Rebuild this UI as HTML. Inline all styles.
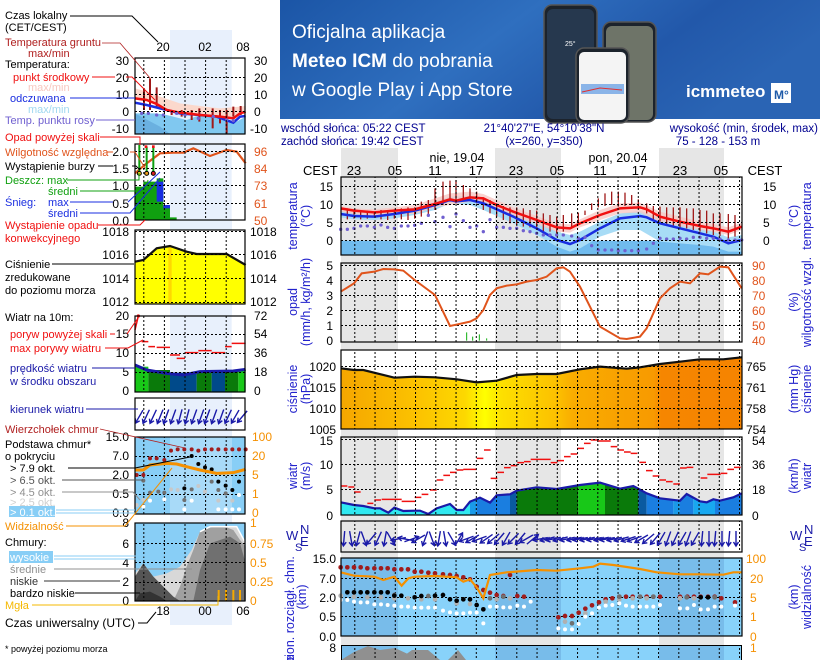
<!DOCTYPE html>
<html><head><meta charset="utf-8"><style>
html,body{margin:0;padding:0;background:#fff;}
svg{display:block;font-family:"Liberation Sans",sans-serif;}
</style></head><body>
<svg width="820" height="660" viewBox="0 0 820 660" xmlns="http://www.w3.org/2000/svg">
<defs>
<linearGradient id="bn" x1="0" y1="0" x2="1" y2="0.3"><stop offset="0" stop-color="#1b55a6"/><stop offset="0.45" stop-color="#2f6fbf"/><stop offset="0.75" stop-color="#2258aa"/><stop offset="1" stop-color="#2a64b4"/></linearGradient>
<linearGradient id="pg" x1="0" y1="0" x2="1" y2="0"><stop offset="0" stop-color="#f5a600"/><stop offset="0.2" stop-color="#fcc400"/><stop offset="0.31" stop-color="#fdd800"/><stop offset="0.36" stop-color="#ffff00"/><stop offset="0.4" stop-color="#fde000"/><stop offset="0.54" stop-color="#fcc000"/><stop offset="0.58" stop-color="#f9ac00"/><stop offset="0.78" stop-color="#f89a00"/><stop offset="0.8" stop-color="#f68600"/><stop offset="1" stop-color="#f68400"/></linearGradient>
<pattern id="vg" x="354.3" y="0" width="20.25" height="4" patternUnits="userSpaceOnUse"><rect x="0" y="0" width="1" height="2" fill="#000"/></pattern>
<pattern id="vgl" x="143.3" y="0" width="20.6" height="4" patternUnits="userSpaceOnUse"><rect x="0" y="0" width="1" height="2" fill="#000"/></pattern>
<g id="ar"><path d="M0,-8 L0,7 M-2.5,3 L0,7 L2.5,3" stroke="#1a1aa8" stroke-width="1.4" fill="none"/></g>
</defs>

<!-- banner -->
<rect x="280" y="0" width="540" height="119" fill="url(#bn)"/>
<text x="292" y="38" font-size="19" fill="#fff">Oficjalna aplikacja</text>
<text x="292" y="67" font-size="19" fill="#fff"><tspan font-weight="bold">Meteo ICM</tspan> do pobrania</text>
<text x="292" y="96" font-size="19" fill="#fff">w Google Play i App Store</text>
<rect x="544" y="5" width="53" height="118" rx="8" fill="#1c232c" stroke="#555" stroke-width="1.5"/>
<rect x="547" y="9" width="47" height="110" rx="6" fill="#26384e"/>
<text x="565" y="46" font-size="7" fill="#fff">25°</text>
<rect x="603" y="22" width="53" height="100" rx="8" fill="#1c232c" stroke="#555" stroke-width="1.5"/>
<rect x="606" y="26" width="47" height="94" rx="6" fill="#6e7468"/>
<rect x="576" y="48" width="53" height="75" rx="8" fill="#1c232c" stroke="#555" stroke-width="1.5"/>
<rect x="579" y="52" width="47" height="68" rx="5" fill="#f4f4f4"/>
<rect x="581" y="84" width="43" height="10" fill="#8ab4e8"/>
<path d="M582 92 L600 88 L622 90" stroke="#e03030" fill="none"/>
<text x="686" y="97" font-size="17" font-weight="bold" fill="#fff">icmmeteo</text>
<rect x="771" y="83" width="20" height="20" fill="#fff"/>
<text x="774" y="99" font-size="12" font-weight="bold" fill="#1e5aa8">M°</text>

<!-- header text -->
<g font-size="11.5" fill="#000090">
<text x="281" y="132">wschód słońca: 05:22 CEST</text>
<text x="281" y="145">zachód słońca: 19:42 CEST</text>
<text x="544" y="132" text-anchor="middle">21°40'27"E, 54°10'38"N</text>
<text x="544" y="145" text-anchor="middle">(x=260,  y=350)</text>
<text x="818" y="132" text-anchor="end">wysokość (min, środek, max)</text>
<text x="718" y="145" text-anchor="middle">75 - 128 - 153 m</text>
</g>

<!-- night bands -->
<g fill="#e6e6e6">
<rect x="341" y="148" width="57" height="512"/>
<rect x="495" y="148" width="66" height="512"/>
<rect x="659" y="148" width="65" height="512"/>
</g>

<g font-size="13" fill="#000">
<text x="457" y="162" text-anchor="middle" font-size="12.5">nie, 19.04</text>
<text x="618" y="162" text-anchor="middle" font-size="12.5">pon, 20.04</text>
<text x="303" y="175">CEST</text>
<text x="354" y="175" text-anchor="middle">23</text>
<text x="395" y="175" text-anchor="middle">05</text>
<text x="435" y="175" text-anchor="middle">11</text>
<text x="476" y="175" text-anchor="middle">17</text>
<text x="516" y="175" text-anchor="middle">23</text>
<text x="557" y="175" text-anchor="middle">05</text>
<text x="600" y="175" text-anchor="middle">11</text>
<text x="639" y="175" text-anchor="middle">17</text>
<text x="680" y="175" text-anchor="middle">23</text>
<text x="721" y="175" text-anchor="middle">05</text>
<text x="765" y="175" text-anchor="middle">CEST</text>
</g>

<!-- ============ TEMPERATURE PANEL ============ -->
<rect x="341" y="177" width="401" height="78" fill="#fff"/>
<rect x="341" y="177" width="57" height="78" fill="#e6e6e6"/>
<rect x="495" y="177" width="66" height="78" fill="#e6e6e6"/>
<rect x="659" y="177" width="65" height="78" fill="#e6e6e6"/>
<g transform="translate(280,120) scale(0.33333)">
<rect x="182" y="362" width="1203" height="43" fill="#70bbee"/>
<path d="M182,272 L222,280 L283,282 L343,272 L404,262 L465,245 L510,230 L570,228 L610,238 L700,275 L770,305 L830,335 L870,345 L900,335 L960,305 L1020,280 L1080,272 L1140,295 L1200,310 L1260,325 L1300,335 L1345,352 L1385,345 L1385,395 L1345,395 L1300,380 L1260,375 L1200,370 L1140,365 L1080,330 L1020,330 L960,350 L900,385 L870,395 L830,380 L770,345 L700,310 L610,270 L570,255 L510,250 L465,270 L404,285 L343,295 L283,300 L222,298 L182,292 Z" fill="#a8dcf6"/>
<path d="M182,258 L222,265 L283,268 L343,262 L404,255 L465,235 L510,220 L570,215 L610,222 L650,240 L700,262 L770,288 L830,310 L870,313 L900,298 L960,270 L1020,250 L1080,248 L1140,275 L1200,290 L1260,305 L1300,312 L1345,322 L1385,308 L1385,330 L1345,345 L1300,335 L1260,330 L1200,318 L1140,305 L1080,278 L1020,280 L960,300 L900,322 L870,338 L830,335 L770,312 L700,288 L650,270 L610,248 L570,245 L510,255 L465,262 L404,282 L343,282 L283,288 L222,282 L182,275 Z" fill="#f8c8c4" opacity="0.8"/>
<g stroke="#a01818" stroke-width="1.3" vector-effect="non-scaling-stroke">
<path vector-effect="non-scaling-stroke" d="M202,265V298 M222,268V296 M242,272V298 M262,272V296 M283,275V292 M303,270V298 M323,272V300 M343,268V296 M364,265V298 M384,262V300 M404,262V296 M424,245V290 M445,240V285 M465,205V270 M489,185V255 M510,182V245 M528,180V250 M550,195V240 M570,205V240 M590,215V250 M610,232V270 M630,240V280 M650,250V290 M670,258V300 M690,262V310 M710,262V315 M730,265V320 M750,270V322 M770,272V330 M790,280V335 M810,285V335 M830,290V340 M850,285V335 M875,280V325 M895,278V310 M915,272V285 M935,250V270 M955,235V262 M975,220V258 M995,215V255 M1015,215V260 M1035,218V258 M1055,225V255 M1075,238V262 M1100,250V280 M1120,258V300 M1140,260V305 M1160,262V315 M1180,262V318 M1200,262V325 M1220,265V325 M1240,265V330 M1260,270V335 M1280,272V340 M1300,280V345 M1320,280V348 M1345,282V355 M1365,285V350"/>
</g>
<polyline points="182,282 222,288 283,290 343,282 404,272 465,255 510,240 528,244 570,240 610,250 700,290 770,325 830,360 870,372 900,360 960,325 1020,295 1080,288 1100,292 1140,310 1200,325 1260,340 1300,350 1345,370 1385,360" fill="none" stroke="#1a2ee0" stroke-width="2.5" vector-effect="non-scaling-stroke"/>
<polyline points="182,265 222,272 283,277 343,272 404,268 465,252 510,238 528,242 570,232 610,235 650,255 700,275 770,300 830,322 870,325 900,310 960,285 1020,265 1080,262 1100,268 1140,290 1200,305 1260,318 1300,325 1345,335 1385,320" fill="none" stroke="#f01010" stroke-width="2.5" vector-effect="non-scaling-stroke"/>
<g fill="#7060d0">
<circle cx="182" cy="328" r="5"/><circle cx="202" cy="328" r="5"/><circle cx="222" cy="325" r="5"/><circle cx="242" cy="318" r="5"/><circle cx="262" cy="318" r="5"/><circle cx="283" cy="322" r="5"/><circle cx="303" cy="315" r="5"/><circle cx="323" cy="322" r="5"/><circle cx="343" cy="325" r="5"/><circle cx="364" cy="318" r="5"/><circle cx="384" cy="318" r="5"/><circle cx="404" cy="316" r="5"/><circle cx="424" cy="310" r="5"/><circle cx="445" cy="286" r="5"/><circle cx="465" cy="305" r="5"/><circle cx="489" cy="292" r="5"/><circle cx="510" cy="320" r="5"/><circle cx="528" cy="282" r="5"/><circle cx="550" cy="302" r="5"/><circle cx="570" cy="322" r="5"/><circle cx="590" cy="318" r="5"/><circle cx="610" cy="335" r="5"/><circle cx="630" cy="299" r="5"/><circle cx="650" cy="322" r="5"/><circle cx="670" cy="322" r="5"/><circle cx="690" cy="325" r="5"/><circle cx="710" cy="325" r="5"/><circle cx="730" cy="332" r="5"/><circle cx="750" cy="335" r="5"/><circle cx="770" cy="340" r="5"/><circle cx="790" cy="345" r="5"/><circle cx="810" cy="345" r="5"/><circle cx="830" cy="345" r="5"/><circle cx="850" cy="345" r="5"/><circle cx="875" cy="348" r="5"/><circle cx="895" cy="355" r="5"/><circle cx="915" cy="352" r="5"/><circle cx="935" cy="377" r="5"/><circle cx="955" cy="390" r="5"/><circle cx="975" cy="390" r="5"/><circle cx="995" cy="390" r="5"/><circle cx="1015" cy="392" r="5"/><circle cx="1035" cy="392" r="5"/><circle cx="1055" cy="392" r="5"/><circle cx="1075" cy="392" r="5"/><circle cx="1100" cy="387" r="5"/><circle cx="1120" cy="370" r="5"/><circle cx="1140" cy="355" r="5"/><circle cx="1160" cy="357" r="5"/><circle cx="1180" cy="357" r="5"/><circle cx="1200" cy="355" r="5"/><circle cx="1220" cy="357" r="5"/><circle cx="1240" cy="352" r="5"/><circle cx="1260" cy="352" r="5"/><circle cx="1280" cy="355" r="5"/><circle cx="1300" cy="355" r="5"/><circle cx="1320" cy="357" r="5"/><circle cx="1345" cy="360" r="5"/><circle cx="1365" cy="360" r="5"/><circle cx="1385" cy="360" r="5"/>
</g>
</g>
<rect x="342" y="177" width="399" height="78" fill="url(#vg)"/>
<path d="M341 186.5H742M341 204.5H742M341 222.5H742M341 240.5H742" stroke="#000" stroke-dasharray="2,2"/>
<rect x="341" y="177" width="401" height="78" fill="none" stroke="#000" stroke-width="1.2"/>
<g font-size="12" fill="#000">
<text x="333" y="191" text-anchor="end">15</text><text x="333" y="209" text-anchor="end">10</text><text x="333" y="227" text-anchor="end">5</text><text x="333" y="245" text-anchor="end">0</text>
<text x="763" y="191">15</text><text x="763" y="209">10</text><text x="763" y="227">5</text><text x="763" y="245">0</text>
</g>

<!-- ============ PRECIP PANEL ============ -->
<rect x="341" y="263" width="401" height="79" fill="#fff"/>
<rect x="341" y="263" width="57" height="79" fill="#e6e6e6"/>
<rect x="495" y="263" width="66" height="79" fill="#e6e6e6"/>
<rect x="659" y="263" width="65" height="79" fill="#e6e6e6"/>
<rect x="342" y="263" width="399" height="79" fill="url(#vg)"/>
<path d="M341 265.5H742M341 280.5H742M341 295.5H742M341 310.5H742M341 325.5H742" stroke="#000" stroke-dasharray="2,2"/>
<g transform="translate(280,120) scale(0.33333)">
<path d="M560,662V637 M578,662V650 M598,662V643 M620,662V655" stroke="#10b010" stroke-width="1" vector-effect="non-scaling-stroke"/>
<polyline points="182,515 222,490 245,460 283,455 310,447 343,448 370,452 404,480 465,525 510,618 528,614 570,605 590,595 610,570 630,525 650,505 680,497 710,493 740,485 770,480 800,470 830,445 850,442 870,455 900,500 960,620 1020,655 1040,657 1080,650 1100,625 1140,535 1170,505 1200,485 1230,490 1260,460 1285,463 1320,440 1345,442 1385,505" fill="none" stroke="#e0541c" stroke-width="2" vector-effect="non-scaling-stroke"/>
</g>
<rect x="341" y="263" width="401" height="79" fill="none" stroke="#000" stroke-width="1.2"/>
<g font-size="12" fill="#000">
<text x="333" y="270" text-anchor="end">5</text><text x="333" y="285" text-anchor="end">4</text><text x="333" y="300" text-anchor="end">3</text><text x="333" y="315" text-anchor="end">2</text><text x="333" y="330" text-anchor="end">1</text><text x="333" y="345" text-anchor="end">0</text>
</g>
<g font-size="12" fill="#e0541c">
<text x="752" y="270">90</text><text x="752" y="285">80</text><text x="752" y="300">70</text><text x="752" y="315">60</text><text x="752" y="330">50</text><text x="752" y="345">40</text>
</g>

<!-- ============ PRESSURE PANEL ============ -->
<g transform="translate(280,340) scale(0.33333)">
<rect x="182" y="30" width="1203" height="238" fill="#fff"/>
<path d="M182,85 L222,90 L250,90 L343,113 L404,110 L465,112 L530,118 L590,127 L650,122 L710,105 L770,102 L830,102 L900,88 L960,80 L1040,86 L1080,82 L1140,72 L1200,65 L1260,58 L1330,58 L1385,52 L1385,268 L182,268 Z" fill="url(#pg)"/>
<polyline points="182,85 222,90 250,90 343,113 404,110 465,112 530,118 590,127 650,122 710,105 770,102 830,102 900,88 960,80 1040,86 1080,82 1140,72 1200,65 1260,58 1330,58 1385,52" fill="none" stroke="#111" stroke-width="2.2" vector-effect="non-scaling-stroke"/>
</g>
<rect x="342" y="350" width="399" height="79" fill="url(#vg)"/>
<path d="M341 366.5H742M341 387.5H742M341 408.5H742" stroke="#000" stroke-dasharray="2,2"/>
<rect x="341" y="350" width="401" height="79" fill="none" stroke="#000" stroke-width="1.2"/>
<g font-size="12" fill="#000">
<text x="336" y="371" text-anchor="end">1020</text><text x="336" y="392" text-anchor="end">1015</text><text x="336" y="413" text-anchor="end">1010</text><text x="336" y="434" text-anchor="end">1005</text>
<text x="746" y="371">765</text><text x="746" y="392">761</text><text x="746" y="413">758</text><text x="746" y="434">754</text>
</g>

<!-- ============ WIND PANEL ============ -->
<rect x="341" y="437" width="401" height="78" fill="#fff"/>
<rect x="341" y="437" width="57" height="78" fill="#e6e6e6"/>
<rect x="495" y="437" width="66" height="78" fill="#e6e6e6"/>
<rect x="659" y="437" width="65" height="78" fill="#e6e6e6"/>
<g transform="translate(280,340) scale(0.33333)">
<clipPath id="wc"><path d="M182,487 L222,495 L250,498 L283,505 L300,505 L325,518 L343,503 L370,513 L404,512 L420,512 L445,522 L470,505 L510,492 L530,510 L550,510 L570,485 L600,473 L630,488 L650,466 L690,463 L710,452 L770,442 L830,447 L900,435 L960,428 L1020,446 L1060,438 L1100,460 L1140,475 L1200,482 L1220,462 L1260,484 L1280,487 L1300,478 L1320,482 L1360,472 L1385,460 L1385,525 L182,525 Z"/></clipPath>
<g clip-path="url(#wc)">
<rect x="182" y="420" width="390" height="105" fill="#30e8f0"/>
<rect x="570" y="420" width="20" height="105" fill="#1a9ae8"/>
<rect x="590" y="420" width="100" height="105" fill="#1a7ee0"/>
<rect x="690" y="420" width="20" height="105" fill="#0a5aa0"/>
<rect x="710" y="420" width="185" height="105" fill="#0a7a0a"/>
<rect x="895" y="420" width="80" height="105" fill="#18c818"/>
<rect x="975" y="420" width="100" height="105" fill="#0a7a0a"/>
<rect x="1075" y="420" width="25" height="105" fill="#0a5aa0"/>
<rect x="1100" y="420" width="80" height="105" fill="#1a7ee0"/>
<rect x="1180" y="420" width="20" height="105" fill="#1a9ae8"/>
<rect x="1200" y="420" width="40" height="105" fill="#1a7ee0"/>
<rect x="1240" y="420" width="65" height="105" fill="#18a8f0"/>
<rect x="1305" y="420" width="80" height="105" fill="#1a7ee0"/>
</g>
<polyline points="182,487 222,495 250,498 283,505 300,505 325,518 343,503 370,513 404,512 420,512 445,522 470,505 510,492 530,510 550,510 570,485 600,473 630,488 650,466 690,463 710,452 770,442 830,447 900,435 960,428 1020,446 1060,438 1100,460 1140,475 1200,482 1220,462 1260,484 1280,487 1300,478 1320,482 1360,472 1385,460" fill="none" stroke="#1a1aa8" stroke-width="2.2" vector-effect="non-scaling-stroke"/>
<path vector-effect="non-scaling-stroke" stroke="#f01010" stroke-width="1.5" fill="none" d="M182,438h20 M205,441h18 M222,456h20 M262,490h18 M283,480h20 M305,478h20 M325,478h20 M345,478h20 M365,484h40 M404,472h20 M425,463h20 M450,450h20 M470,420h20 M490,406h20 M510,397h20 M530,390h20 M550,388h40 M590,355h20 M612,330h20 M632,415h20 M652,397h20 M672,383h20 M692,377h20 M712,368h20 M732,365h20 M752,358h40 M792,358h20 M812,368h20 M832,362h20 M852,350h20 M872,342h20 M892,325h20 M912,310h20 M932,300h20 M952,303h40 M992,320h20 M1012,330h20 M1032,336h20 M1052,340h20 M1078,367h20 M1098,392h20 M1118,408h20 M1138,420h20 M1158,425h20 M1180,432h20 M1200,384h20 M1220,382h20 M1262,414h20 M1282,403h40 M1322,400h20 M1342,388h20 M1362,382h20"/>
</g>
<rect x="342" y="437" width="399" height="78" fill="url(#vg)"/>
<path d="M341 439.5H742M341 464.5H742M341 489.5H742" stroke="#000" stroke-dasharray="2,2"/>
<rect x="341" y="437" width="401" height="78" fill="none" stroke="#000" stroke-width="1.2"/>
<g font-size="12" fill="#000">
<text x="333" y="445" text-anchor="end">15</text><text x="333" y="469" text-anchor="end">10</text><text x="333" y="494" text-anchor="end">5</text><text x="333" y="520" text-anchor="end">0</text>
<text x="752" y="445">54</text><text x="752" y="469">36</text><text x="752" y="494">18</text><text x="752" y="520">0</text>
</g>

<!-- ============ DIRECTION PANEL ============ -->
<rect x="341" y="521" width="401" height="31" fill="#fff"/>
<rect x="341" y="521" width="57" height="31" fill="#e6e6e6"/>
<rect x="495" y="521" width="66" height="31" fill="#e6e6e6"/>
<rect x="659" y="521" width="65" height="31" fill="#e6e6e6"/>
<rect x="342" y="521" width="399" height="31" fill="url(#vg)"/>
<g>
<use href="#ar" transform="translate(344,539) rotate(5)"/>
<use href="#ar" transform="translate(351,539) rotate(-10)"/>
<use href="#ar" transform="translate(358,539) rotate(15)"/>
<use href="#ar" transform="translate(364,539) rotate(-20)"/>
<use href="#ar" transform="translate(371,539) rotate(40)"/>
<use href="#ar" transform="translate(378,539) rotate(25)"/>
<use href="#ar" transform="translate(385,539) rotate(10)"/>
<use href="#ar" transform="translate(391,539) rotate(-30)"/>
<use href="#ar" transform="translate(398,539) rotate(80)"/>
<use href="#ar" transform="translate(405,539) rotate(100)"/>
<use href="#ar" transform="translate(412,539) rotate(-110)"/>
<use href="#ar" transform="translate(418,539) rotate(60)"/>
<use href="#ar" transform="translate(425,539) rotate(20)"/>
<use href="#ar" transform="translate(432,539) rotate(-20)"/>
<use href="#ar" transform="translate(439,539) rotate(10)"/>
<use href="#ar" transform="translate(445,539) rotate(-10)"/>
<use href="#ar" transform="translate(452,539) rotate(-30)"/>
<use href="#ar" transform="translate(459,539) rotate(-150)"/>
<use href="#ar" transform="translate(466,539) rotate(70)"/>
<use href="#ar" transform="translate(472,539) rotate(60)"/>
<use href="#ar" transform="translate(479,539) rotate(70)"/>
<use href="#ar" transform="translate(486,539) rotate(55)"/>
<use href="#ar" transform="translate(493,539) rotate(50)"/>
<use href="#ar" transform="translate(499,539) rotate(40)"/>
<use href="#ar" transform="translate(506,539) rotate(30)"/>
<use href="#ar" transform="translate(513,539) rotate(45)"/>
<use href="#ar" transform="translate(520,539) rotate(40)"/>
<use href="#ar" transform="translate(526,539) rotate(60)"/>
<use href="#ar" transform="translate(533,539) rotate(-130)"/>
<use href="#ar" transform="translate(540,539) rotate(80)"/>
<use href="#ar" transform="translate(547,539) rotate(75)"/>
<use href="#ar" transform="translate(553,539) rotate(78)"/>
<use href="#ar" transform="translate(560,539) rotate(75)"/>
<use href="#ar" transform="translate(567,539) rotate(78)"/>
<use href="#ar" transform="translate(574,539) rotate(78)"/>
<use href="#ar" transform="translate(580,539) rotate(80)"/>
<use href="#ar" transform="translate(587,539) rotate(78)"/>
<use href="#ar" transform="translate(594,539) rotate(80)"/>
<use href="#ar" transform="translate(601,539) rotate(78)"/>
<use href="#ar" transform="translate(607,539) rotate(80)"/>
<use href="#ar" transform="translate(614,539) rotate(78)"/>
<use href="#ar" transform="translate(621,539) rotate(75)"/>
<use href="#ar" transform="translate(628,539) rotate(72)"/>
<use href="#ar" transform="translate(634,539) rotate(70)"/>
<use href="#ar" transform="translate(641,539) rotate(60)"/>
<use href="#ar" transform="translate(648,539) rotate(50)"/>
<use href="#ar" transform="translate(655,539) rotate(40)"/>
<use href="#ar" transform="translate(661,539) rotate(30)"/>
<use href="#ar" transform="translate(668,539) rotate(20)"/>
<use href="#ar" transform="translate(675,539) rotate(25)"/>
<use href="#ar" transform="translate(682,539) rotate(30)"/>
<use href="#ar" transform="translate(688,539) rotate(20)"/>
<use href="#ar" transform="translate(695,539) rotate(30)"/>
<use href="#ar" transform="translate(702,539) rotate(5)"/>
<use href="#ar" transform="translate(709,539) rotate(0)"/>
<use href="#ar" transform="translate(715,539) rotate(5)"/>
<use href="#ar" transform="translate(722,539) rotate(0)"/>
<use href="#ar" transform="translate(729,539) rotate(5)"/>
<use href="#ar" transform="translate(736,539) rotate(0)"/>
</g>
<rect x="341" y="521" width="401" height="31" fill="none" stroke="#000" stroke-width="1.2"/>
<g fill="#1a1aa8" font-size="13">
<text x="286" y="540">W</text><text x="300" y="534">N</text><text x="300" y="546">E</text><text x="295" y="551" font-size="11">S</text>
<text x="790" y="540">W</text><text x="804" y="534">N</text><text x="804" y="546">E</text><text x="799" y="551" font-size="11">S</text>
</g>

<!-- ============ CLOUD BASE PANEL ============ -->
<rect x="341" y="558" width="401" height="78" fill="#88d2fa"/>
<rect x="341" y="558" width="57" height="78" fill="#78bcea"/>
<rect x="495" y="558" width="66" height="78" fill="#78bcea"/>
<rect x="659" y="558" width="65" height="78" fill="#78bcea"/>
<rect x="342" y="558" width="399" height="78" fill="url(#vg)"/>
<path d="M341 578.5H742M341 597.5H742M341 616.5H742" stroke="#000" stroke-dasharray="2,2"/>
<g transform="translate(280,340) scale(0.33333)">
<g fill="#a01c1c">
<circle cx="182" cy="682" r="7"/><circle cx="202" cy="682" r="7"/><circle cx="222" cy="682" r="7"/><circle cx="242" cy="682" r="7"/><circle cx="262" cy="685" r="7"/><circle cx="283" cy="685" r="7"/><circle cx="303" cy="685" r="7"/><circle cx="323" cy="685" r="7"/><circle cx="343" cy="688" r="7"/><circle cx="364" cy="688" r="7"/><circle cx="384" cy="688" r="7"/><circle cx="404" cy="695" r="7"/><circle cx="424" cy="695" r="7"/><circle cx="445" cy="698" r="7"/><circle cx="465" cy="700" r="7"/><circle cx="489" cy="703" r="7"/><circle cx="510" cy="705" r="7"/><circle cx="530" cy="708" r="7"/><circle cx="550" cy="712" r="7"/><circle cx="570" cy="718" r="7"/><circle cx="590" cy="740" r="7"/><circle cx="610" cy="750" r="7"/><circle cx="630" cy="758" r="7"/><circle cx="650" cy="765" r="7"/><circle cx="670" cy="768" r="7"/><circle cx="690" cy="705" r="7"/><circle cx="712" cy="768" r="7"/><circle cx="732" cy="770" r="7"/>
<circle cx="835" cy="832" r="7"/><circle cx="855" cy="828" r="7"/><circle cx="876" cy="828" r="7"/><circle cx="896" cy="818" r="7"/><circle cx="916" cy="806" r="7"/><circle cx="936" cy="796" r="7"/><circle cx="957" cy="787" r="7"/><circle cx="977" cy="778" r="7"/><circle cx="997" cy="775" r="7"/><circle cx="1018" cy="770" r="7"/><circle cx="1038" cy="770" r="7"/><circle cx="1058" cy="770" r="7"/><circle cx="1080" cy="770" r="7"/><circle cx="1100" cy="770" r="7"/><circle cx="1120" cy="770" r="7"/><circle cx="1140" cy="770" r="7"/><circle cx="1200" cy="770" r="7"/><circle cx="1222" cy="770" r="7"/><circle cx="1242" cy="770" r="7"/><circle cx="1262" cy="770" r="7"/><circle cx="1284" cy="770" r="7"/><circle cx="1304" cy="770" r="7"/><circle cx="1324" cy="775" r="7"/><circle cx="1365" cy="787" r="7"/>
</g>
<g fill="#b0b0b0">
<circle cx="182" cy="767" r="7"/><circle cx="222" cy="770" r="7"/><circle cx="262" cy="772" r="7"/><circle cx="303" cy="772" r="7"/><circle cx="343" cy="775" r="7"/><circle cx="384" cy="775" r="7"/><circle cx="424" cy="778" r="7"/><circle cx="465" cy="778" r="7"/><circle cx="530" cy="790" r="7"/><circle cx="570" cy="792" r="7"/><circle cx="650" cy="778" r="7"/><circle cx="690" cy="775" r="7"/><circle cx="855" cy="845" r="7"/><circle cx="916" cy="820" r="7"/><circle cx="977" cy="785" r="7"/><circle cx="1018" cy="778" r="7"/><circle cx="1058" cy="775" r="7"/><circle cx="1100" cy="775" r="7"/><circle cx="1200" cy="775" r="7"/><circle cx="1242" cy="775" r="7"/>
</g>
<g fill="#707070">
<circle cx="343" cy="765" r="7"/><circle cx="445" cy="768" r="7"/><circle cx="630" cy="775" r="7"/><circle cx="670" cy="770" r="7"/><circle cx="876" cy="850" r="7"/><circle cx="1018" cy="770" r="7"/><circle cx="1080" cy="770" r="7"/><circle cx="1120" cy="770" r="7"/><circle cx="1220" cy="772" r="7"/><circle cx="1304" cy="772" r="7"/>
</g>
<g fill="#000">
<circle cx="202" cy="757" r="7"/><circle cx="222" cy="757" r="7"/><circle cx="242" cy="757" r="7"/><circle cx="262" cy="757" r="7"/><circle cx="283" cy="757" r="7"/><circle cx="303" cy="757" r="7"/><circle cx="323" cy="757" r="7"/><circle cx="343" cy="767" r="7"/><circle cx="364" cy="767" r="7"/><circle cx="404" cy="772" r="7"/><circle cx="424" cy="768" r="7"/><circle cx="465" cy="767" r="7"/><circle cx="489" cy="765" r="7"/><circle cx="510" cy="778" r="7"/><circle cx="530" cy="782" r="7"/><circle cx="550" cy="778" r="7"/><circle cx="570" cy="778" r="7"/><circle cx="590" cy="795" r="7"/><circle cx="610" cy="808" r="7"/><circle cx="1262" cy="772" r="7"/><circle cx="1284" cy="772" r="7"/>
</g>
<g fill="#fff">
<circle cx="182" cy="780" r="6"/><circle cx="202" cy="780" r="6"/><circle cx="222" cy="785" r="6"/><circle cx="242" cy="787" r="6"/><circle cx="262" cy="787" r="6"/><circle cx="283" cy="793" r="6"/><circle cx="303" cy="793" r="6"/><circle cx="323" cy="795" r="6"/><circle cx="343" cy="797" r="6"/><circle cx="364" cy="800" r="6"/><circle cx="384" cy="800" r="6"/><circle cx="404" cy="803" r="6"/><circle cx="424" cy="803" r="6"/><circle cx="445" cy="803" r="6"/><circle cx="465" cy="803" r="6"/><circle cx="489" cy="812" r="6"/><circle cx="510" cy="817" r="6"/><circle cx="530" cy="820" r="6"/><circle cx="550" cy="820" r="6"/><circle cx="570" cy="818" r="6"/><circle cx="590" cy="818" r="6"/><circle cx="610" cy="850" r="6"/><circle cx="630" cy="800" r="6"/><circle cx="650" cy="800" r="6"/><circle cx="670" cy="802" r="6"/><circle cx="690" cy="802" r="6"/><circle cx="712" cy="797" r="6"/><circle cx="732" cy="800" r="6"/><circle cx="752" cy="785" r="6"/>
<circle cx="835" cy="865" r="6"/><circle cx="855" cy="868" r="6"/><circle cx="876" cy="868" r="6"/><circle cx="896" cy="852" r="6"/><circle cx="916" cy="830" r="6"/><circle cx="936" cy="820" r="6"/><circle cx="957" cy="803" r="6"/><circle cx="977" cy="797" r="6"/><circle cx="997" cy="795" r="6"/><circle cx="1018" cy="790" r="6"/><circle cx="1038" cy="797" r="6"/><circle cx="1058" cy="800" r="6"/><circle cx="1080" cy="800" r="6"/><circle cx="1100" cy="800" r="6"/><circle cx="1120" cy="800" r="6"/><circle cx="1140" cy="795" r="6"/><circle cx="1200" cy="805" r="6"/><circle cx="1222" cy="805" r="6"/><circle cx="1242" cy="795" r="6"/><circle cx="1262" cy="808" r="6"/><circle cx="1284" cy="808" r="6"/><circle cx="1304" cy="800" r="6"/><circle cx="1324" cy="800" r="6"/><circle cx="1365" cy="797" r="6"/>
</g>
<polyline points="182,697 222,707 283,710 310,720 343,710 365,737 385,715 404,710 465,708 530,712 550,725 570,718 590,742 610,775 630,705 680,697 770,690 830,692 900,685 940,680 960,671 1000,675 1080,687 1130,697 1200,703 1260,703 1330,704 1360,697 1385,697" fill="none" stroke="#f59000" stroke-width="2.2" vector-effect="non-scaling-stroke"/>
</g>
<rect x="341" y="558" width="401" height="78" fill="none" stroke="#000" stroke-width="1.2"/>
<g font-size="12" fill="#000">
<text x="336" y="563" text-anchor="end">15.0</text><text x="336" y="583" text-anchor="end">7.0</text><text x="336" y="602" text-anchor="end">2.0</text><text x="336" y="621" text-anchor="end">0.5</text><text x="336" y="641" text-anchor="end">0.0</text>
</g>
<g font-size="12" fill="#f59000">
<text x="746" y="563">100</text><text x="750" y="583">20</text><text x="750" y="602">5</text><text x="750" y="621">1</text><text x="750" y="641">0</text>
</g>

<!-- ============ CLOUDS (bottom) ============ -->
<rect x="341" y="645" width="401" height="15" fill="#88d2fa"/>
<rect x="341" y="645" width="57" height="15" fill="#78bcea"/>
<rect x="495" y="645" width="66" height="15" fill="#78bcea"/>
<rect x="659" y="645" width="65" height="15" fill="#78bcea"/>
<path d="M341,660 L354,652 L368,646 L380,650 L395,648 L410,655 L420,660 Z M398,660 L412,650 L428,650 L440,660 Z M448,660 L458,650 L466,660 Z" fill="#909090"/>
<rect x="342" y="645" width="399" height="15" fill="url(#vg)"/>
<path d="M341 645.5H742" stroke="#000"/>
<path d="M341.5 645V660M741.5 645V660" stroke="#000"/>
<text x="336" y="652" font-size="12" text-anchor="end">8</text>
<text x="750" y="652" font-size="12" fill="#f59000">1</text>

<!-- rotated labels -->
<g fill="#2222cc" font-size="12.5">
<text transform="translate(297,216) rotate(-90)" text-anchor="middle">temperatura</text>
<text transform="translate(310,216) rotate(-90)" text-anchor="middle">(°C)</text>
<text transform="translate(297,302) rotate(-90)" text-anchor="middle">opad</text>
<text transform="translate(310,302) rotate(-90)" text-anchor="middle">(mm/h, kg/m²/h)</text>
<text transform="translate(297,389) rotate(-90)" text-anchor="middle">ciśnienie</text>
<text transform="translate(310,389) rotate(-90)" text-anchor="middle">(hPa)</text>
<text transform="translate(297,476) rotate(-90)" text-anchor="middle">wiatr</text>
<text transform="translate(310,476) rotate(-90)" text-anchor="middle">(m/s)</text>
<text transform="translate(294,610) rotate(-90)" text-anchor="middle">pion. rozciągł. chm.</text>
<text transform="translate(306,597) rotate(-90)" text-anchor="middle">(km)</text>
<text transform="translate(294,658) rotate(-90)" text-anchor="middle">e</text>
<text transform="translate(798,216) rotate(-90)" text-anchor="middle">(°C)</text>
<text transform="translate(811,216) rotate(-90)" text-anchor="middle">temperatura</text>
<text transform="translate(798,302) rotate(-90)" text-anchor="middle">(%)</text>
<text transform="translate(811,302) rotate(-90)" text-anchor="middle">wilgotność wzgl.</text>
<text transform="translate(798,389) rotate(-90)" text-anchor="middle">(mm Hg)</text>
<text transform="translate(811,389) rotate(-90)" text-anchor="middle">ciśnienie</text>
<text transform="translate(798,476) rotate(-90)" text-anchor="middle">(km/h)</text>
<text transform="translate(811,476) rotate(-90)" text-anchor="middle">wiatr</text>
<text transform="translate(798,597) rotate(-90)" text-anchor="middle">(km)</text>
<text transform="translate(811,597) rotate(-90)" text-anchor="middle">widzialność</text>
</g>

<!-- ================= LEFT LEGEND ================= -->
<rect x="170" y="30" width="62" height="595" fill="#e8f0fc"/>
<g font-size="12" fill="#000">
<text x="163" y="51" text-anchor="middle">20</text><text x="205" y="51" text-anchor="middle">02</text><text x="243" y="51" text-anchor="middle">08</text>
</g>
<!-- mini temp -->
<g transform="scale(0.33333)">
<rect x="405" y="175" width="332" height="227" fill="#fff"/>
<rect x="510" y="175" width="185" height="227" fill="#e8f0fc"/>
<path d="M405,340 L470,340 L500,345 L560,360 L600,345 L650,350 L700,370 L737,350 L737,402 L405,402 Z" fill="#80c8f0"/>
<path d="M405,340 L480,380 L510,402 L405,402 Z" fill="#6ab0e0"/>
<path d="M405,265 L440,275 L480,290 L540,310 L600,318 L660,325 L720,320 L737,318 L737,340 L700,352 L600,342 L500,328 L440,300 L405,292 Z" fill="#fbd8cc"/>
<path d="M432,265V330 M450,235V330 M470,262V320 M515,330V345 M545,330V350 M575,330V360 M598,325V365 M638,325V385 M660,330V370 M680,330V400 M700,320V350 M722,318V345" stroke="#a01818" stroke-width="2" vector-effect="non-scaling-stroke"/>
<polyline points="405,308 440,315 500,330 540,340 600,345 650,350 700,368 720,350 737,348" fill="none" stroke="#1a2ee0" stroke-width="2.5" vector-effect="non-scaling-stroke"/>
<polyline points="405,295 440,300 470,312 500,330 540,338 600,345 660,350 700,355 720,340 737,335" fill="none" stroke="#f01010" stroke-width="2.5" vector-effect="non-scaling-stroke"/>
<g fill="#7060d0"><circle cx="425" cy="340" r="5"/><circle cx="445" cy="340" r="5"/><circle cx="470" cy="345" r="5"/><circle cx="490" cy="345" r="5"/><circle cx="530" cy="340" r="5"/><circle cx="555" cy="345" r="5"/><circle cx="595" cy="355" r="5"/><circle cx="640" cy="350" r="5"/><circle cx="680" cy="360" r="5"/><circle cx="700" cy="362" r="5"/></g>
</g>
<rect x="136" y="58" width="109" height="76" fill="url(#vgl)"/>
<path d="M135 77.5H245M135 94.5H245M135 111.5H245" stroke="#000" stroke-dasharray="2,2"/>
<rect x="135" y="58" width="110" height="76" fill="none" stroke="#000" stroke-width="1.2"/>
<g font-size="12" fill="#000">
<text x="129" y="65" text-anchor="end">30</text><text x="129" y="82" text-anchor="end">20</text><text x="129" y="99" text-anchor="end">10</text><text x="129" y="116" text-anchor="end">0</text><text x="129" y="133" text-anchor="end">-10</text>
<text x="254" y="65">30</text><text x="254" y="82">20</text><text x="254" y="99">10</text><text x="254" y="116">0</text><text x="250" y="133">-10</text>
</g>
<!-- mini precip -->
<g transform="scale(0.33333)">
<rect x="405" y="430" width="332" height="230" fill="#fff"/>
<rect x="510" y="430" width="185" height="230" fill="#e8f0fc"/>
<path d="M405,560 H430 V545 H470 V535 H490 V620 H510 V652 H530 V660 H405 Z" fill="#10a010"/>
<path d="M470,545 H490 V605 H470 Z M490,615 H510 V625 H490 Z" fill="#1a2ee0"/>
<polyline points="405,520 440,490 480,460 520,458 550,458 580,445 630,468 680,450 710,455 737,490" fill="none" stroke="#e0541c" stroke-width="2.2" vector-effect="non-scaling-stroke"/>
<path d="M418,515V435 M440,515V440 M460,515V440" stroke="#10a010" stroke-width="2" vector-effect="non-scaling-stroke"/>
<g fill="#f01010"><rect x="434" y="436" width="8" height="8"/><rect x="456" y="436" width="8" height="8"/></g>
<circle cx="418" cy="520" r="6" fill="#f0d020" stroke="#000" vector-effect="non-scaling-stroke"/>
<circle cx="440" cy="520" r="6" fill="#f0a020" stroke="#000" vector-effect="non-scaling-stroke"/>
<circle cx="460" cy="520" r="6" fill="#e02020" stroke="#000" vector-effect="non-scaling-stroke"/>
</g>
<rect x="136" y="144" width="109" height="76" fill="url(#vgl)"/>
<path d="M135 151.5H245M135 168.5H245M135 185.5H245M135 203.5H245" stroke="#000" stroke-dasharray="2,2"/>
<rect x="135" y="144" width="110" height="76" fill="none" stroke="#000" stroke-width="1.2"/>
<g font-size="12" fill="#000">
<text x="129" y="156" text-anchor="end">2.0</text><text x="129" y="173" text-anchor="end">1.5</text><text x="129" y="190" text-anchor="end">1.0</text><text x="129" y="208" text-anchor="end">0.5</text><text x="129" y="225" text-anchor="end">0.0</text>
</g>
<g font-size="12" fill="#e0541c">
<text x="254" y="156">96</text><text x="254" y="173">84</text><text x="254" y="190">73</text><text x="254" y="208">61</text><text x="254" y="225">50</text>
</g>
<!-- mini pressure -->
<g transform="scale(0.33333)">
<rect x="405" y="690" width="332" height="222" fill="#fff"/>
<path d="M405,785 L430,780 L470,745 L510,738 L560,755 L590,762 L680,762 L737,795 L737,912 L405,912 Z" fill="#ffff00"/>
<path d="M505,740 L515,736 L515,912 L505,912 Z" fill="#ffd800"/>
<polyline points="405,785 430,780 470,745 510,738 560,755 590,762 680,762 737,795" fill="none" stroke="#111" stroke-width="2.2" vector-effect="non-scaling-stroke"/>
</g>
<rect x="136" y="230" width="109" height="74" fill="url(#vgl)"/>
<path d="M135 231.5H245M135 254.5H245M135 278.5H245M135 302.5H245" stroke="#000" stroke-dasharray="2,2"/>
<rect x="135" y="230" width="110" height="74" fill="none" stroke="#000" stroke-width="1.2"/>
<g font-size="12" fill="#000">
<text x="129" y="236" text-anchor="end">1018</text><text x="129" y="259" text-anchor="end">1016</text><text x="129" y="283" text-anchor="end">1014</text><text x="129" y="306" text-anchor="end">1012</text>
<text x="250" y="236">1018</text><text x="250" y="259">1016</text><text x="250" y="283">1014</text><text x="250" y="306">1012</text>
</g>
<!-- mini wind -->
<g transform="translate(0,310) scale(0.33333)">
<rect x="405" y="15" width="332" height="230" fill="#fff"/>
<rect x="510" y="15" width="185" height="230" fill="#e8f0fc"/>
<rect x="405" y="170" width="40" height="75" fill="#18c818"/>
<rect x="445" y="180" width="65" height="65" fill="#0a7a0a"/>
<rect x="510" y="188" width="80" height="57" fill="#004a8a"/>
<rect x="590" y="185" width="45" height="60" fill="#0a7a0a"/>
<rect x="635" y="185" width="40" height="60" fill="#004a8a"/>
<rect x="675" y="182" width="40" height="63" fill="#0a7a0a"/>
<rect x="715" y="180" width="22" height="65" fill="#18c818"/>
<polyline points="405,165 440,180 500,190 550,195 600,185 700,183 737,178" fill="none" stroke="#1a1aa8" stroke-width="3" vector-effect="non-scaling-stroke"/>
<path d="M405,60 L415,18" stroke="#f01010" stroke-width="1.5" vector-effect="non-scaling-stroke"/>
<circle cx="415" cy="18" r="5" fill="#f01010"/>
<path d="M425,95h20 M445,110h20 M470,112h40 M510,135h30 M530,145h25 M555,128h40 M595,122h40 M635,128h40 M675,110h20 M695,100h42" stroke="#f01010" stroke-width="1.5" vector-effect="non-scaling-stroke"/>
</g>
<rect x="136" y="316" width="109" height="76" fill="url(#vgl)"/>
<path d="M135 334.5H245M135 353.5H245M135 372.5H245" stroke="#000" stroke-dasharray="2,2"/>
<rect x="135" y="316" width="110" height="76" fill="none" stroke="#000" stroke-width="1.2"/>
<g font-size="12" fill="#000">
<text x="129" y="320" text-anchor="end">20</text><text x="129" y="338" text-anchor="end">15</text><text x="129" y="357" text-anchor="end">10</text><text x="129" y="376" text-anchor="end">5</text><text x="129" y="395" text-anchor="end">0</text>
<text x="254" y="320">72</text><text x="254" y="338">54</text><text x="254" y="357">36</text><text x="254" y="376">18</text><text x="254" y="395">0</text>
</g>
<!-- mini direction -->
<rect x="135" y="398" width="110" height="32" fill="#fff"/>
<rect x="170" y="398" width="62" height="32" fill="#e8f0fc"/>
<rect x="136" y="398" width="109" height="32" fill="url(#vgl)"/>
<g>
<use href="#ar" transform="translate(139,417) rotate(30)"/><use href="#ar" transform="translate(146,417) rotate(25)"/><use href="#ar" transform="translate(153,417) rotate(25)"/><use href="#ar" transform="translate(160,417) rotate(22)"/><use href="#ar" transform="translate(166,417) rotate(20)"/><use href="#ar" transform="translate(173,417) rotate(20)"/><use href="#ar" transform="translate(180,417) rotate(15)"/><use href="#ar" transform="translate(187,417) rotate(15)"/><use href="#ar" transform="translate(194,417) rotate(20)"/><use href="#ar" transform="translate(201,417) rotate(20)"/><use href="#ar" transform="translate(207,417) rotate(20)"/><use href="#ar" transform="translate(214,417) rotate(20)"/><use href="#ar" transform="translate(221,417) rotate(20)"/><use href="#ar" transform="translate(228,417) rotate(25)"/><use href="#ar" transform="translate(235,417) rotate(30)"/><use href="#ar" transform="translate(242,417) rotate(40)"/>
</g>
<rect x="135" y="398" width="110" height="32" fill="none" stroke="#000" stroke-width="1.2"/>
<!-- mini cloud base -->
<rect x="135" y="437" width="110" height="77" fill="#88cef6"/>
<rect x="170" y="437" width="62" height="77" fill="#a8daf8"/>
<rect x="136" y="437" width="109" height="77" fill="url(#vgl)"/>
<path d="M135 456.5H245M135 475.5H245M135 494.5H245" stroke="#000" stroke-dasharray="2,2"/>
<g transform="translate(0,310) scale(0.33333)">
<g fill="#a01c1c"><circle cx="410" cy="495" r="6"/><circle cx="430" cy="495" r="6"/><circle cx="450" cy="445" r="6"/><circle cx="470" cy="445" r="6"/><circle cx="493" cy="450" r="6"/><circle cx="513" cy="422" r="6"/><circle cx="533" cy="418" r="6"/><circle cx="553" cy="418" r="6"/><circle cx="575" cy="418" r="6"/><circle cx="595" cy="422" r="6"/><circle cx="615" cy="418" r="6"/><circle cx="635" cy="418" r="6"/><circle cx="655" cy="418" r="6"/><circle cx="677" cy="418" r="6"/><circle cx="697" cy="418" r="6"/><circle cx="717" cy="418" r="6"/><circle cx="737" cy="418" r="6"/></g>
<g fill="#000"><circle cx="575" cy="438" r="6"/><circle cx="595" cy="462" r="6"/><circle cx="615" cy="472" r="6"/><circle cx="635" cy="478" r="6"/><circle cx="655" cy="515" r="6"/><circle cx="677" cy="527" r="6"/><circle cx="553" cy="535" r="6"/><circle cx="697" cy="540" r="6"/><circle cx="717" cy="515" r="6"/></g>
<g fill="#707070"><circle cx="430" cy="512" r="6"/><circle cx="450" cy="548" r="6"/><circle cx="475" cy="545" r="6"/><circle cx="493" cy="548" r="6"/><circle cx="575" cy="538" r="6"/><circle cx="635" cy="515" r="6"/><circle cx="655" cy="540" r="6"/><circle cx="553" cy="570" r="6"/><circle cx="677" cy="550" r="6"/></g>
<g fill="#c8c8c8"><circle cx="410" cy="585" r="6"/><circle cx="430" cy="570" r="6"/><circle cx="513" cy="538" r="6"/><circle cx="533" cy="540" r="6"/><circle cx="595" cy="528" r="6"/><circle cx="615" cy="545" r="6"/><circle cx="655" cy="572" r="6"/><circle cx="697" cy="572" r="6"/></g>
<g fill="#fff"><circle cx="430" cy="590" r="6"/><circle cx="450" cy="572" r="6"/><circle cx="493" cy="568" r="6"/><circle cx="553" cy="598" r="6"/><circle cx="575" cy="572" r="6"/><circle cx="655" cy="598" r="6"/><circle cx="677" cy="598" r="6"/><circle cx="697" cy="598" r="6"/><circle cx="717" cy="598" r="6"/><circle cx="717" cy="555" r="6"/></g>
<polyline points="405,480 430,480 450,465 500,460 530,462 560,470 600,480 650,490 700,488 737,478" fill="none" stroke="#f59000" stroke-width="3" vector-effect="non-scaling-stroke"/>
</g>
<rect x="135" y="437" width="110" height="77" fill="none" stroke="#000" stroke-width="1.2"/>
<g font-size="12" fill="#000">
<text x="129" y="441" text-anchor="end">15.0</text><text x="129" y="460" text-anchor="end">7.0</text><text x="129" y="479" text-anchor="end">2.0</text><text x="129" y="498" text-anchor="end">0.5</text><text x="129" y="517" text-anchor="end">0.0</text>
</g>
<g font-size="12" fill="#f59000">
<text x="252" y="441">100</text><text x="252" y="460">20</text><text x="252" y="479">5</text><text x="252" y="498">1</text><text x="252" y="517">0</text>
</g>
<!-- mini clouds -->
<g transform="translate(0,310) scale(0.33333)">
<rect x="405" y="640" width="332" height="233" fill="#88cef6"/>
<path d="M405,873 L405,790 L430,760 L460,800 L500,790 L540,770 L575,720 L600,665 L630,655 L680,650 L710,650 L737,700 L737,873 Z" fill="#d8d8d8"/>
<path d="M540,830 L560,770 L580,720 L600,665 L640,650 L680,652 L700,660 L720,690 L737,710 L737,873 L520,873 Z" fill="#a0a0a0"/>
<path d="M580,873 L600,780 L630,700 L660,690 L690,680 L720,700 L737,760 L737,873 Z" fill="#707070"/>
<path d="M405,873 L405,800 L430,760 L460,800 L490,830 L520,860 L540,873 Z" fill="#555"/>
<path d="M405,873 L420,850 L450,845 L480,860 L500,873 Z" fill="#333"/>
<path d="M600,665 L630,650 L690,650 L710,650 L737,700" fill="none" stroke="#fff" stroke-width="1.5" vector-effect="non-scaling-stroke"/>
<rect x="653" y="840" width="6" height="33" fill="#f5a800"/><rect x="675" y="840" width="6" height="33" fill="#f5a800"/><rect x="697" y="840" width="6" height="33" fill="#f5a800"/><rect x="717" y="840" width="6" height="33" fill="#f5a800"/>
</g>
<rect x="136" y="523" width="109" height="78" fill="url(#vgl)"/>
<path d="M135 543.5H245M135 562.5H245M135 582.5H245" stroke="#000" stroke-dasharray="2,2"/>
<rect x="135" y="523" width="110" height="78" fill="none" stroke="#000" stroke-width="1.2"/>
<g font-size="12" fill="#000">
<text x="129" y="527" text-anchor="end">8</text><text x="129" y="548" text-anchor="end">6</text><text x="129" y="567" text-anchor="end">4</text><text x="129" y="586" text-anchor="end">2</text><text x="129" y="605" text-anchor="end">0</text>
</g>
<g font-size="12" fill="#f59000">
<text x="250" y="527">1</text><text x="250" y="548">0.75</text><text x="250" y="567">0.5</text><text x="250" y="586">0.25</text><text x="250" y="605">0</text>
</g>
<g font-size="12" fill="#000">
<text x="163" y="615" text-anchor="middle">18</text><text x="205" y="615" text-anchor="middle">00</text><text x="243" y="615" text-anchor="middle">06</text>
</g>

<!-- legend labels & leader lines -->
<g font-size="11">
<text x="5" y="19" fill="#000">Czas lokalny</text>
<text x="5" y="31" fill="#000">(CET/CEST)</text>
<path d="M70,16 H132 L158,42" stroke="#000" fill="none"/>
<text x="5" y="46" fill="#b02020">Temperatura gruntu</text>
<text x="28" y="57" fill="#b02020">max/min</text>
<path d="M102,43 H120 L150,78" stroke="#b02020" fill="none" stroke-width="0.8"/>
<text x="5" y="68" fill="#000">Temperatura:</text>
<text x="13" y="81" fill="#f01010">punkt środkowy</text>
<path d="M92,77 H115 M126,77 H132 L155,100" stroke="#f01010" fill="none"/>
<text x="28" y="91" fill="#f8c8c0">max/min</text>
<text x="10" y="102" fill="#1a2ee0">odczuwana</text>
<path d="M70,98 H135" stroke="#1a2ee0"/>
<text x="28" y="113" fill="#a0d8f0">max/min</text>
<text x="5" y="124" fill="#7060d0">Temp. punktu rosy</text>
<path d="M96,120 H135" stroke="#7060d0"/>
<text x="5" y="141" fill="#f01010">Opad powyżej skali</text>
<path d="M100,137 H140 V145" stroke="#f01010" fill="none"/>
<text x="5" y="156" fill="#e0541c">Wilgotność względna</text>
<path d="M107,152 H113 M130,152 H135 L145,168" stroke="#e0541c" fill="none"/>
<text x="5" y="170" fill="#000">Wystąpienie burzy</text>
<path d="M98,166 H113 M132,166 H136 L140,170" stroke="#000" fill="none"/>
<text x="5" y="184" fill="#10a010">Deszcz: max</text>
<path d="M67,180 H139 V173" stroke="#10a010" fill="none"/>
<text x="48" y="195" fill="#10a010">średni</text>
<path d="M80,191 H146 L148,180" stroke="#10a010" fill="none"/>
<text x="5" y="206" fill="#1a2ee0">Śnieg:</text>
<text x="48" y="206" fill="#1a2ee0">max</text>
<path d="M70,202 H113 M128,202 L160,172" stroke="#1a2ee0" fill="none"/>
<text x="48" y="217" fill="#1a2ee0">średni</text>
<path d="M80,213 H130 L160,178" stroke="#1a2ee0" fill="none"/>
<text x="5" y="229" fill="#f01010">Wystąpienie opadu</text>
<text x="5" y="242" fill="#f01010">konwekcyjnego</text>
<path d="M98,225 H140 L145,220 " stroke="#f01010" fill="none"/>
<text x="5" y="268" fill="#000">Ciśnienie</text>
<path d="M52,264 H134" stroke="#000"/>
<text x="5" y="281" fill="#000">zredukowane</text>
<text x="5" y="294" fill="#000">do poziomu morza</text>
<text x="5" y="321" fill="#000">Wiatr na 10m:</text>
<text x="10" y="338" fill="#f01010">poryw powyżej skali</text>
<path d="M110,334 H115 M127,334 L138,318" stroke="#f01010" fill="none"/>
<text x="10" y="352" fill="#f01010">max porywy wiatru</text>
<path d="M105,348 H128 L143,340" stroke="#f01010" fill="none"/>
<text x="10" y="372" fill="#1a1aa8">prędkość wiatru</text>
<text x="10" y="385" fill="#1a1aa8">w środku obszaru</text>
<path d="M92,368 H135" stroke="#1a1aa8"/>
<text x="10" y="413" fill="#1a1aa8">kierunek wiatru</text>
<path d="M86,409 H138" stroke="#1a1aa8"/>
<text x="5" y="433" fill="#b02020">Wierzchołek chmur</text>
<path d="M100,429 L185,448" stroke="#b02020" fill="none" stroke-width="0.8"/>
<text x="5" y="448" fill="#000">Podstawa chmur*</text>
<text x="5" y="460" fill="#000">o pokryciu</text>
<text x="10" y="472" fill="#000">&gt; 7.9 okt.</text>
<path d="M68,468 H135 L190,457" stroke="#000" fill="none"/>
<text x="10" y="484" fill="#555">&gt; 6.5 okt.</text>
<path d="M62,480 H143" stroke="#555" fill="none"/>
<text x="10" y="496" fill="#909090">&gt; 4.5 okt.</text>
<path d="M62,492 H133 L140,500" stroke="#909090" fill="none"/>
<text x="10" y="506" fill="#d0d0d0">&gt; 2.5 okt.</text>
<rect x="9" y="506" width="46" height="11" fill="#88cef6"/>
<text x="10" y="516" fill="#fff">&gt; 0.1 okt.</text>
<path d="M56,510 H135 M56,513 H135" stroke="#88cef6" fill="none"/>
<text x="5" y="530" fill="#f59000">Widzialność</text>
<path d="M66,526 H125 L172,468" stroke="#f59000" fill="none"/>
<text x="5" y="546" fill="#000">Chmury:</text>
<rect x="9" y="551" width="44" height="12" fill="#88cef6"/>
<text x="10" y="561" fill="#fff">wysokie</text>
<path d="M54,556 H185 M54,559 H185" stroke="#88cef6"/>
<text x="10" y="573" fill="#909090">średnie</text>
<path d="M54,569 H192" stroke="#909090"/>
<text x="10" y="585" fill="#333">niskie</text>
<path d="M44,581 H120" stroke="#333"/>
<text x="10" y="597" fill="#000">bardzo niskie</text>
<path d="M75,593 H140" stroke="#000"/>
<text x="5" y="609" fill="#f5b800">Mgła</text>
<path d="M32,605 H218 V596" stroke="#f5b800" fill="none"/>
<text x="5" y="627" fill="#000" font-size="12">Czas uniwersalny (UTC)</text>
<path d="M138,623 H147 L156,612" stroke="#000" fill="none"/>
<text x="5" y="652" fill="#000" font-size="9">* powyżej poziomu morza</text>
</g>
</svg>
</body></html>
